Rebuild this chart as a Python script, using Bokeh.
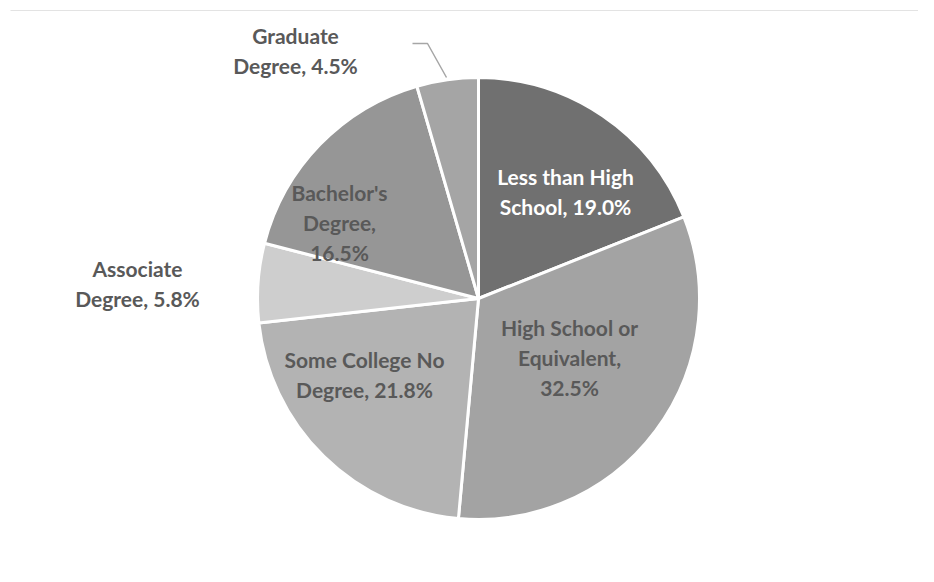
import math
from bokeh.plotting import figure
from bokeh.models import Range1d, ColumnDataSource
from bokeh.core.properties import value
from bokeh.embed import file_html
from bokeh.resources import INLINE

# ---- data ----
categories = ["Less than High School", "High School or Equivalent", "Some College No Degree",
              "Associate Degree", "Bachelor's Degree", "Graduate Degree"]
shares = [19.0, 32.5, 21.8, 5.8, 16.5, 4.5]
colors = ["#707070", "#a3a3a3", "#b3b3b3", "#cecece", "#969696", "#a5a5a5"]
label_lines = [
    ["Less than High", "School, 19.0%"],
    ["High School or", "Equivalent,", "32.5%"],
    ["Some College No", "Degree, 21.8%"],
    ["Associate", "Degree, 5.8%"],
    ["Bachelor's", "Degree,", "16.5%"],
    ["Graduate", "Degree, 4.5%"],
]
label_colors = ["#ffffff", "#595959", "#595959", "#595959", "#595959", "#595959"]

# ---- layout (pixel units, y up) ----
W, H = 918, 566
DX, DY = 7, -8
cx, cy, R = 471 + DX, 276 + DY, 221
# label block centres (x, y of first line) and line spacing
label_pos = [(558, 398), (562, 247), (357, 215), (130, 306), (332, 382), (288, 539)]
label_pos = [(x + DX, y + DY) for x, y in label_pos]
LS = 30

p = figure(width=W, height=H, output_backend="svg", toolbar_location=None,
           x_range=Range1d(0, W), y_range=Range1d(0, H), min_border=0)
p.axis.visible = False
p.grid.visible = False
p.outline_line_color = None
p.background_fill_color = "white"
p.border_fill_color = "white"

total = sum(shares)
starts, ends = [], []
cum = 0.0
for s in shares:
    starts.append(math.pi / 2 - 2 * math.pi * cum / total)
    cum += s
    ends.append(math.pi / 2 - 2 * math.pi * cum / total)

src = ColumnDataSource(dict(x=[cx] * len(shares), y=[cy] * len(shares),
                            start=starts, end=ends, color=colors, cat=categories))
p.wedge(x="x", y="y", radius=R, radius_units="screen", start_angle="start", end_angle="end",
        direction="clock", fill_color="color", line_color="white", line_width=3, source=src)

# faint top border line
p.line([10, W], [564 + DY, 564 + DY], line_color="#e3e3e3", line_width=1)

# leader line for Graduate Degree
p.line([405 + DX, 420 + DX, 439 + DX], [531 + DY, 531 + DY, 497 + DY],
       line_color="#a6a6a6", line_width=1.5)

xs, ys, ts, cs = [], [], [], []
for (lx, ly), lines, c in zip(label_pos, label_lines, label_colors):
    for i, t in enumerate(lines):
        xs.append(lx)
        ys.append(ly - i * LS)
        ts.append(t)
        cs.append(c)
p.text(x=xs, y=ys, text=ts, text_color=cs, text_font=value("Lato"), text_font_style="bold",
       text_font_size="21px", text_align="center", text_baseline="middle")

open("out.html", "w").write(file_html(p, INLINE))
